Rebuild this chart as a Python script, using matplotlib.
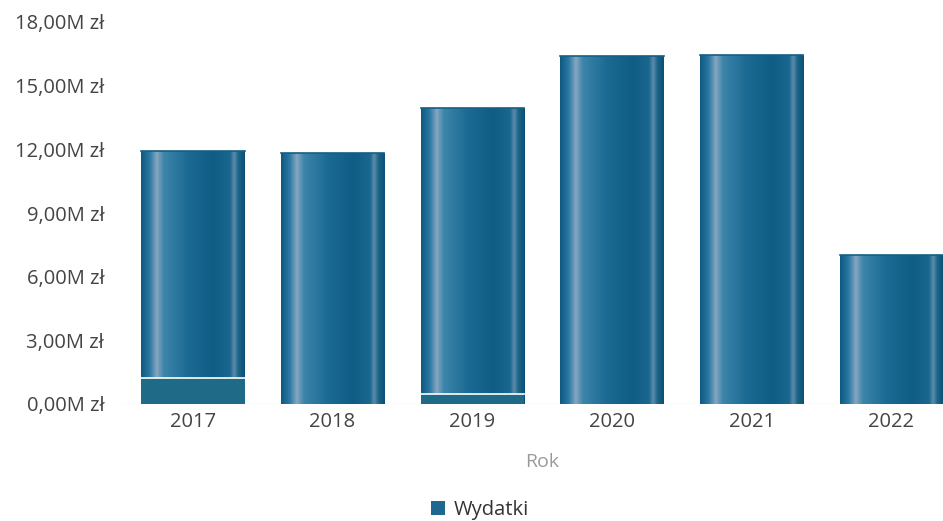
import numpy as np
import matplotlib.pyplot as plt
from matplotlib.colors import LinearSegmentedColormap
from matplotlib.patches import Patch

years = ["2017", "2018", "2019", "2020", "2021", "2022"]
wydatki = [11.92, 11.82, 13.94, 16.39, 16.44, 7.02]  # mln zł
# flat band visible at the bottom of some bars
band = [1.22, 0.0, 0.47, 0.0, 0.0, 0.0]
yticks = [0, 3, 6, 9, 12, 15, 18]

TEXT = "#444444"
LIGHT = "#9a9a9a"
BAND = "#1f6a86"

plt.rcParams["font.family"] = ["Open Sans", "DejaVu Sans"]

# cylinder-like horizontal shading of the bars
cyl = LinearSegmentedColormap.from_list("cyl", [
    (0.00, "#0f5a80"),
    (0.08, "#2a78a4"),
    (0.15, "#86a6c0"),
    (0.22, "#3c84aa"),
    (0.45, "#1b6a93"),
    (0.70, "#0f5d85"),
    (0.86, "#1a6790"),
    (0.90, "#5f8cab"),
    (0.94, "#1a6689"),
    (1.00, "#0c5075"),
])
grad = np.linspace(0, 1, 200).reshape(1, -1)

fig = plt.figure(figsize=(9.43, 5.21), dpi=100)
ax = fig.add_axes([123 / 943, 117 / 521, 820 / 943, 382 / 521])

x = np.arange(len(years))
width = 0.74
bars = ax.bar(x, wydatki, width=width, color="none", edgecolor="none")
for rect in bars:
    x0 = rect.get_x()
    h = rect.get_height()
    ax.imshow(grad, cmap=cyl, aspect="auto", interpolation="bilinear",
              extent=(x0, x0 + width, 0, h), zorder=2)
    # slightly darker rim at the top
    ax.plot([x0, x0 + width], [h, h], color="#155f85", lw=1.2, zorder=3)

for xi, b in zip(x, band):
    if b > 0:
        ax.bar(xi, b, width=width, color=BAND, edgecolor="none", zorder=4)
        ax.plot([xi - width / 2, xi + width / 2], [b, b], color="white",
                lw=1.2, zorder=5)

ax.set_xlim(-0.5, 5.37)
ax.set_ylim(0, 18)
ax.set_yticks(yticks)
ax.set_yticklabels([f"{v},00M zł" for v in yticks])
ax.set_xticks(x)
ax.set_xticklabels(years)
ax.tick_params(axis="both", length=0, colors=TEXT, labelsize=14.5)
ax.tick_params(axis="y", pad=13.5)
ax.tick_params(axis="x", pad=6)

for name, spine in ax.spines.items():
    spine.set_visible(False)
ax.axhline(0, color="#ebebeb", lw=1, zorder=1)

ax.set_xlabel("Rok", color=LIGHT, fontsize=14)
ax.xaxis.set_label_coords((542 - 123) / 820, -(453 - 404) / 382)

handle = Patch(facecolor="#1d6790", edgecolor="none")
fig.legend([handle], ["Wydatki"], loc="center", bbox_to_anchor=(480 / 943, 1 - 510 / 521),
           frameon=False, fontsize=14.5, handlelength=0.7, handleheight=0.7,
           handletextpad=0.4, labelcolor="#333333")

plt.savefig("out.png", dpi=100)
plt.close()
